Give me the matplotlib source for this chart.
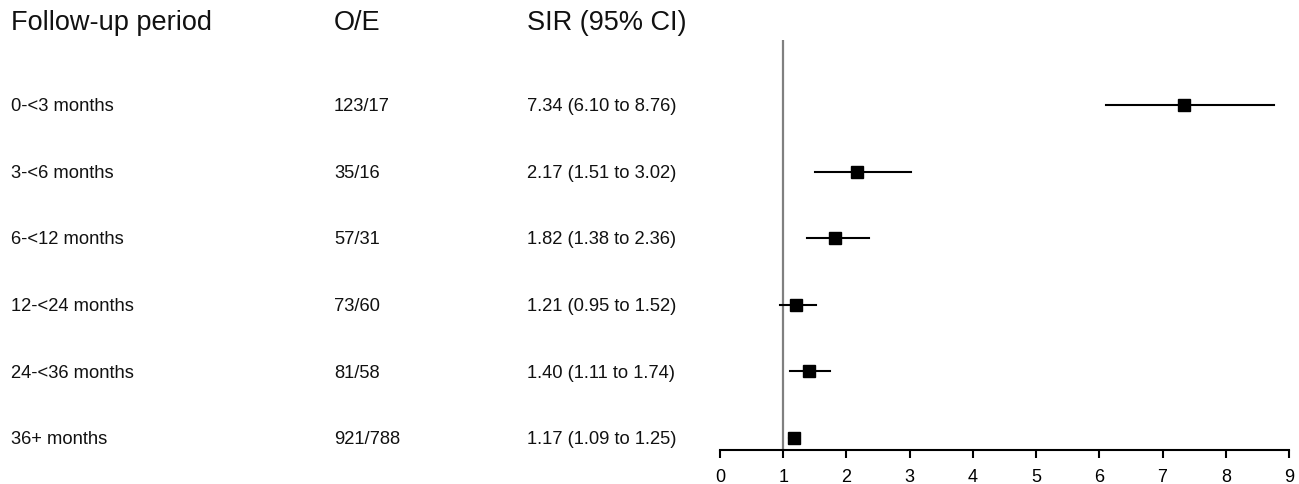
import matplotlib
matplotlib.use("Agg")
import matplotlib.pyplot as plt
import matplotlib.transforms as mtransforms

plt.rcParams['font.family'] = ['Liberation Sans', 'DejaVu Sans']

periods = ["0-<3 months", "3-<6 months", "6-<12 months", "12-<24 months", "24-<36 months", "36+ months"]
oe = ["123/17", "35/16", "57/31", "73/60", "81/58", "921/788"]
sir = [7.34, 2.17, 1.82, 1.21, 1.40, 1.17]
lo = [6.10, 1.51, 1.38, 0.95, 1.11, 1.09]
hi = [8.76, 3.02, 2.36, 1.52, 1.74, 1.25]
headers = ["Follow-up period", "O/E", "SIR (95% CI)"]
xticks = list(range(0, 10))

W, H = 1299, 484
fig = plt.figure(figsize=(W / 100, H / 100), dpi=100)
ax = fig.add_axes([720 / W, 1 - 450 / H, (1289 - 720) / W, (450 - 40) / H])

n = len(periods)
ypos = [n - 1 - i for i in range(n)]

ax.axvline(1, color="#808080", lw=1.6, zorder=1)
for y, s, l, h in zip(ypos, sir, lo, hi):
    ax.plot([l, h], [y, y], color="black", lw=1.5, zorder=2)
    ax.plot([s], [y], marker="s", color="black", markersize=8, zorder=3)

ax.set_xlim(0, 9)
ax.set_ylim(-0.18, 5.976)
ax.set_xticks(xticks)
ax.set_xticklabels([str(t) for t in xticks], fontsize=13)
ax.set_yticks([])
for side in ["top", "right", "left"]:
    ax.spines[side].set_visible(False)
ax.spines["bottom"].set_linewidth(1.5)
ax.tick_params(axis="x", direction="out", length=6, width=1.5, pad=8)

trans = mtransforms.blended_transform_factory(fig.transFigure, ax.transData)
colx = [11 / W, 334 / W, 527 / W]
dy = -0.025
for y, p, o, s, l, h in zip(ypos, periods, oe, sir, lo, hi):
    ax.text(colx[0], y + dy, p, transform=trans, fontsize=13.2, va="center", ha="left", color="#111111")
    ax.text(colx[1], y + dy, o, transform=trans, fontsize=13.2, va="center", ha="left", color="#111111")
    ax.text(colx[2], y + dy, f"{s:.2f} ({l:.2f} to {h:.2f})", transform=trans,
            fontsize=13.2, va="center", ha="left", color="#111111")

for x, t in zip(colx, headers):
    fig.text(x, 1 - 23 / H, t, fontsize=19.5, va="center", ha="left", color="#111111")

fig.savefig("out.png", dpi=100)
